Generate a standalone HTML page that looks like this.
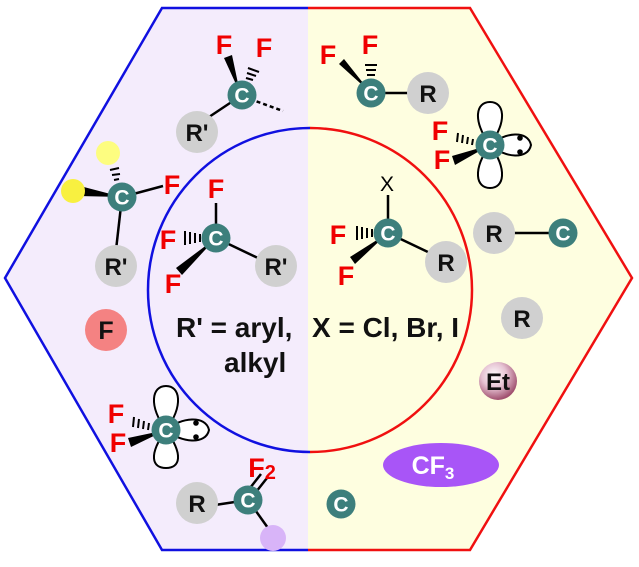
<!DOCTYPE html>
<html><head><style>
html,body{margin:0;padding:0;background:#fff}
svg text{font-family:"Liberation Sans",Arial,sans-serif;font-weight:bold}
</style></head><body>
<svg width="639" height="562" viewBox="0 0 639 562" xmlns="http://www.w3.org/2000/svg">
<defs>
<radialGradient id="et" cx="40%" cy="35%" r="65%">
<stop offset="0" stop-color="#fff"/><stop offset="0.5" stop-color="#e6c3d3"/><stop offset="1" stop-color="#a0506f"/>
</radialGradient>
<g id="C"><circle r="14.5" fill="#3d7f7c"/><text y="7.5" text-anchor="middle" font-size="21" fill="#fff">C</text></g>
</defs>
<polygon points="162,8 308,8 308,550 162,550 5,278" fill="#f4ecfc"/>
<polygon points="308,8 470,8 632,278 470,550 308,550" fill="#fefee0"/>
<polyline points="308,8 162,8 5,278 162,550 308,550" fill="none" stroke="#1010e0" stroke-width="2.5"/>
<polyline points="308,8 470,8 632,278 470,550 308,550" fill="none" stroke="#f01010" stroke-width="2.5"/>
<path d="M310,128 A162,162 0 0 0 310,452" fill="none" stroke="#1010e0" stroke-width="2.5"/>
<path d="M310,128 A162,162 0 0 1 310,452" fill="none" stroke="#f01010" stroke-width="2.5"/>

<g stroke="#000" stroke-width="2.5">
<line x1="242" y1="95" x2="197" y2="125"/>
<line x1="250" y1="99" x2="283" y2="111" stroke-dasharray="4,3"/>
<line x1="122" y1="197" x2="116" y2="250"/>
<line x1="122" y1="197" x2="163" y2="186"/>
<line x1="216" y1="238" x2="216" y2="203"/>
<line x1="216" y1="238" x2="262" y2="260"/>
<line x1="371" y1="93" x2="410" y2="93"/>
<line x1="388" y1="233" x2="388" y2="195"/>
<line x1="388" y1="233" x2="430" y2="253"/>
<line x1="514" y1="233" x2="550" y2="233"/>
<line x1="248" y1="500" x2="215" y2="505"/>
<line x1="248" y1="500" x2="268" y2="528"/>
<line x1="250" y1="488" x2="261" y2="474"/>
<line x1="256" y1="492" x2="267" y2="478"/>
</g>
<g fill="#000">
<polygon points="240,93 224,58 232,55"/>
<polygon points="122,197 80,186 78,196"/>
<polygon points="216,238 176,268 182,275"/>
<polygon points="371,93 339,64 344,59"/>
<polygon points="490,145 452,156 455,165"/>
<polygon points="388,233 350,257 355,264"/>
<polygon points="166,430 128,438 131,447"/>
</g>
<g stroke="#000" stroke-width="2">
<line x1="246" y1="83" x2="250" y2="84"/><line x1="246" y1="78" x2="253" y2="80"/><line x1="247" y1="73" x2="256" y2="76"/><line x1="248" y1="68" x2="259" y2="72"/>
<line x1="116" y1="185" x2="119" y2="185"/><line x1="114" y1="180" x2="119" y2="179"/><line x1="112" y1="175" x2="120" y2="174"/><line x1="110" y1="170" x2="119" y2="168"/>
<line x1="205" y1="235" x2="205" y2="241"/><line x1="200" y1="234" x2="200" y2="242"/><line x1="195" y1="233" x2="195" y2="243"/><line x1="190" y1="232" x2="190" y2="244"/><line x1="185" y1="231" x2="185" y2="245"/>
<line x1="368" y1="80" x2="374" y2="80"/><line x1="367" y1="75" x2="375" y2="75"/><line x1="366" y1="70" x2="376" y2="70"/><line x1="365" y1="65" x2="377" y2="65"/>
<line x1="478" y1="141" x2="478" y2="146"/><line x1="473" y1="139" x2="472" y2="145"/><line x1="468" y1="137" x2="467" y2="144"/><line x1="463" y1="135" x2="462" y2="143"/><line x1="458" y1="133" x2="457" y2="142"/>
<line x1="377" y1="230" x2="377" y2="236"/><line x1="372" y1="229" x2="372" y2="237"/><line x1="367" y1="228" x2="367" y2="238"/><line x1="362" y1="227" x2="362" y2="239"/><line x1="357" y1="226" x2="357" y2="240"/>
<line x1="154" y1="425" x2="154" y2="431"/><line x1="149" y1="423" x2="148" y2="430"/><line x1="144" y1="421" x2="143" y2="429"/><line x1="139" y1="419" x2="138" y2="428"/><line x1="134" y1="417" x2="133" y2="427"/>
</g>
<g fill="#fff" stroke="#000" stroke-width="2">
<path d="M490,145 C472,120 476,102 490,102 C504,102 508,120 490,145 Z"/>
<path d="M490,145 C472,170 476,188 490,188 C504,188 508,170 490,145 Z"/>
<path d="M490,145 C505,132 528,130 531,145 C528,160 505,158 490,145 Z"/>
<path d="M166,430 C148,405 152,386 166,386 C180,386 184,405 166,430 Z"/>
<path d="M166,430 C148,455 152,468 166,468 C180,468 184,455 166,430 Z"/>
<path d="M166,430 C181,417 206,415 209,430 C206,445 181,443 166,430 Z"/>
</g>
<g fill="#000"><circle cx="520" cy="138" r="2.8"/><circle cx="520" cy="152" r="2.8"/><circle cx="196" cy="423" r="2.8"/><circle cx="196" cy="437" r="2.8"/></g>
<g fill="#d0d0d0">
<circle cx="197" cy="132" r="21"/><circle cx="116" cy="266" r="21"/><circle cx="276" cy="266" r="21"/>
<circle cx="428" cy="93" r="21"/><circle cx="446" cy="262" r="21"/><circle cx="494" cy="233" r="21"/>
<circle cx="522" cy="318" r="21"/><circle cx="197" cy="503" r="21"/>
</g>
<g font-size="24" fill="#111" text-anchor="middle">
<text x="197" y="141">R'</text><text x="116" y="275">R'</text><text x="276" y="275">R'</text>
<text x="428" y="102">R</text><text x="446" y="271">R</text><text x="494" y="242">R</text>
<text x="522" y="327">R</text><text x="197" y="512">R</text>
</g>
<circle cx="108" cy="153" r="12" fill="#fdfd80"/>
<circle cx="73" cy="191" r="12" fill="#f8f040"/>
<circle cx="106" cy="330" r="21" fill="#f48282"/>
<text x="106" y="339" font-size="25" text-anchor="middle" fill="#111">F</text>
<circle cx="498" cy="381" r="19" fill="url(#et)"/>
<text x="498" y="390" font-size="24" text-anchor="middle" fill="#111">Et</text>
<ellipse cx="441" cy="465" rx="58" ry="22" fill="#a855f7"/>
<text x="433" y="474" font-size="25" text-anchor="middle" fill="#fff">CF<tspan font-size="17" dy="5">3</tspan></text>
<circle cx="273" cy="538" r="13" fill="#d8b4f8"/>
<use href="#C" x="242" y="95"/><use href="#C" x="122" y="197"/><use href="#C" x="216" y="238"/>
<use href="#C" x="371" y="93"/><use href="#C" x="490" y="145"/><use href="#C" x="388" y="233"/>
<use href="#C" x="563" y="233"/><use href="#C" x="341" y="504"/><use href="#C" x="166" y="430"/>
<use href="#C" x="248" y="500"/>
<g font-size="27" fill="#f00000" text-anchor="middle">
<text x="224" y="54">F</text><text x="264" y="57">F</text>
<text x="172" y="194">F</text>
<text x="216" y="198">F</text><text x="168" y="249">F</text><text x="173" y="293">F</text>
<text x="328" y="64">F</text><text x="370" y="54">F</text>
<text x="440" y="140">F</text><text x="442" y="169">F</text>
<text x="338" y="244">F</text><text x="346" y="285">F</text>
<text x="116" y="423">F</text><text x="118" y="452">F</text>
<text x="262" y="477">F<tspan font-size="20" dy="2">2</tspan></text>
</g>
<text x="387" y="191" font-size="21" style="font-weight:normal" text-anchor="middle" fill="#000">X</text>
<g font-size="28" fill="#111">
<text x="176" y="337">R' = aryl,</text>
<text x="224" y="372">alkyl</text>
<text x="312" y="337">X = Cl, Br, I</text>
</g>
</svg>
</body></html>
